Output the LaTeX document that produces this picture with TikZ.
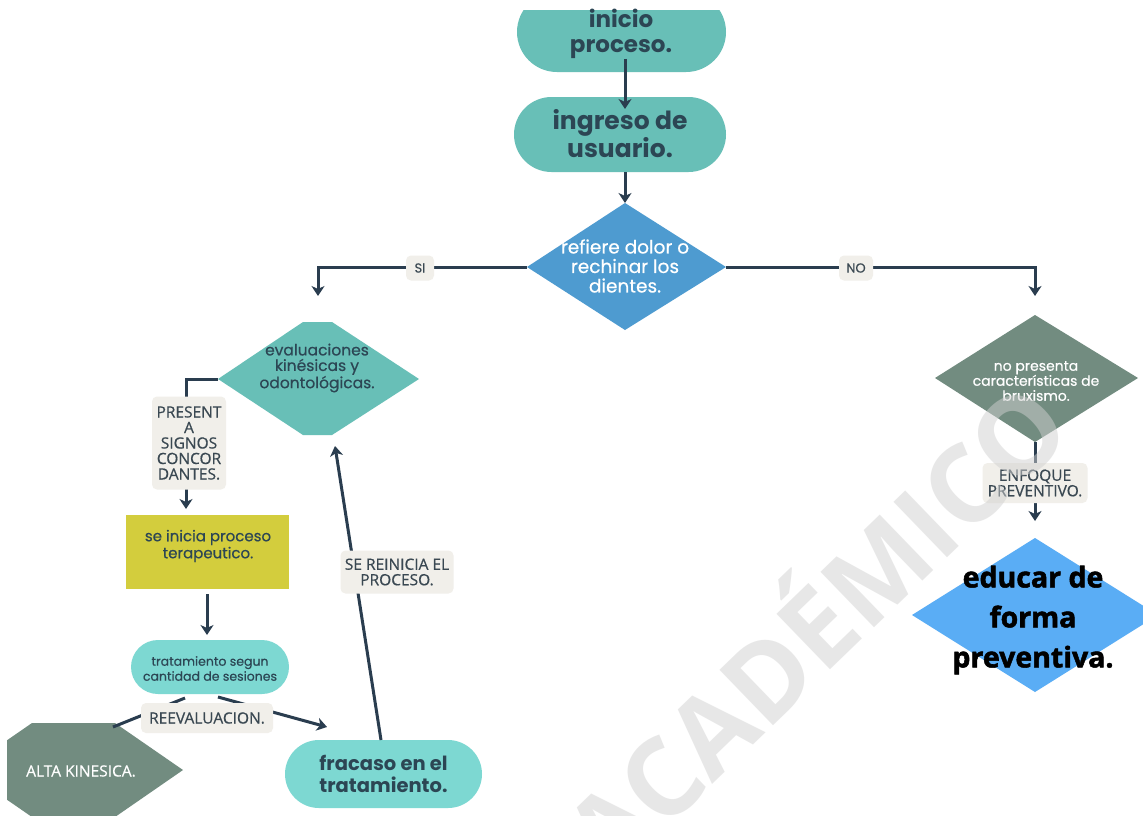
\documentclass[tikz,border=0pt]{standalone}
\usepackage{fontspec}
\setmainfont{Poppins}
\newfontfamily\popm{Poppins}[FakeBold=0.5]
\newfontfamily\osans{Open Sans}[FakeBold=0.6]
\newfontfamily\heavy{Open Sans}[BoldFeatures={FakeBold=1.8}]
\newfontfamily\wmfont{Open Sans}
\usetikzlibrary{arrows.meta,shapes.misc}
\definecolor{teal1}{HTML}{68BFB7}
\definecolor{teal2}{HTML}{7DD8D2}
\definecolor{blue1}{HTML}{4E9BD0}
\definecolor{blue2}{HTML}{5AADF5}
\definecolor{sage}{HTML}{728C80}
\definecolor{olive}{HTML}{D3CD3D}
\definecolor{ink}{HTML}{2A3D4F}
\definecolor{inktext}{HTML}{2C4654}
\definecolor{tag}{HTML}{F1EFEA}
\definecolor{tagtext}{HTML}{3A4852}
\definecolor{wm}{HTML}{D0D0D0}
\begin{document}
\begin{tikzpicture}[x=1pt,y=-1pt,
  conn/.style={draw=ink,line width=3pt,-{Stealth[length=10pt,width=13pt,inset=3pt]}},
  plain/.style={draw=ink,line width=3pt},
  tagbox/.style={fill=tag,rounded corners=5pt,inner sep=3pt,text=tagtext,align=center,
    font={\osans\fontsize{15.5}{15.5}\selectfont}},
  pill/.style={rounded rectangle,inner sep=0pt},
  txt/.style={align=center,text=inktext,inner sep=0pt}]
\useasboundingbox (0,0) rectangle (1143,815);
\fill[white] (0,0) rectangle (1143,815);

% ---------- shapes ----------
\begin{scope}
  \clip (0,10) rectangle (1143,815);
  \node[pill,fill=teal1,minimum width=209pt,minimum height=80pt] (inicioshape) at (621.5,32) {};
\end{scope}
\node[txt,font={\bfseries\fontsize{23}{25}\selectfont}] (inicio) at (621,34) {inicio\\proceso.};

\node[pill,fill=teal1,minimum width=212pt,minimum height=75pt] (ingreso) at (620,134.5) {};
\node[txt,font={\bfseries\fontsize{25}{25.5}\selectfont}] (ingresotxt) at (620,134) {ingreso de\\usuario.};

\fill[blue1] (625,203) coordinate (dAt) -- (726,267) coordinate (dAr) -- (625,330) coordinate (dAb) -- (527,267) coordinate (dAl) -- cycle;
\node[align=center,text=white,inner sep=0pt,font={\popm\fontsize{18.5}{19.5}\selectfont}] (refiere) at (625,266) {refiere dolor o\\rechinar los\\dientes.};

\fill[teal1] (303,322) -- (332,322) -- (419,379) coordinate (eR) -- (332,435) -- (303,435) -- (218,379) coordinate (eL) -- cycle;
\coordinate (eB) at (335,446);
\node[txt,font={\popm\fontsize{15.5}{15.5}\selectfont}] (evalu) at (317,368) {evaluaciones\\kinésicas y\\odontológicas.};

\node[fill=olive,minimum width=163pt,minimum height=74pt,inner sep=0pt] (terapbox) at (207.5,552) {};
\node[txt,font={\popm\fontsize{15}{17}\selectfont}] (terap) at (208,546) {se inicia proceso\\terapeutico.};

\node[pill,fill=teal2,minimum width=158pt,minimum height=54pt] (trat) at (210,667) {};
\node[txt,font={\popm\fontsize{12.5}{15}\selectfont}] (trattxt) at (210,668.5) {tratamiento segun\\cantidad de sesiones};

\begin{scope}
  \clip (7,0) rectangle (1143,815);
  \fill[sage] (32,723) -- (115,723) -- (183,770) -- (115,817) -- (32,817) -- (-36,770) -- cycle;
\end{scope}
\coordinate (altaTop) at (113,727);
\node[align=center,text=white,inner sep=0pt,font={\osans\fontsize{15.5}{15}\selectfont}] (alta) at (81,771) {ALTA KINESICA.};

\node[pill,fill=teal2,minimum width=197pt,minimum height=68pt] (fracaso) at (383.5,774) {};
\node[txt,font={\bfseries\fontsize{19.5}{22}\selectfont}] (fracasotxt) at (383.5,774) {fracaso en el\\tratamiento.};

\fill[sage] (1035,315) -- (1138,378) -- (1035,442) coordinate (dBb) -- (935,378) -- cycle;
\node[align=center,text=white,inner sep=0pt,font={\popm\fontsize{14}{15}\selectfont}] (nopres) at (1036,381) {no presenta\\características de\\bruxismo.};

\fill[blue2] (1035,538) -- (1158,615) -- (1035,692) -- (912,615) -- cycle;
\node[align=center,text=black,inner sep=0pt,font={\heavy\bfseries\fontsize{28.5}{40}\selectfont}] (educar) at (1033,620) {educar de\\forma\\preventiva.};

% ---------- connectors ----------
\coordinate (a1e) at (625,109);
\draw[conn] (inicio.south -| a1e) -- (a1e);
\draw[conn] (ingreso.south -| dAt) -- (dAt);

\coordinate (siend) at (318,296);
\draw[conn] (dAl) -| (siend);
\coordinate (noend) at (1035,296);
\draw[conn] (dAr) -| (noend);

\coordinate (pend) at (186,509);
\draw[conn] (eL) -| (pend);

\coordinate (t1s) at (207,594);
\coordinate (t1e) at (207,635);
\draw[conn] (t1s) -- (t1e);

\coordinate (r1s) at (185,698);
\draw[plain] (r1s) -- (altaTop);
\coordinate (r2s) at (218,697);
\coordinate (r2e) at (327,727);
\draw[conn] (r2s) -- (r2e);

\coordinate (fs) at (381,740);
\draw[conn] (fs) -- (eB);

\coordinate (enfend) at (1035,521);
\draw[conn] (dBb) -- (enfend);

% ---------- labels ----------
\node[tagbox,font={\popm\fontsize{13}{15}\selectfont},minimum width=28pt,minimum height=25pt] (si) at (420,268) {SI};
\node[tagbox,font={\popm\fontsize{13}{15}\selectfont},minimum width=34pt,minimum height=25pt] (no) at (856,268) {NO};
\node[tagbox,minimum width=74pt,minimum height=93pt,inner sep=2pt] (present) at (189,443) {PRESENT\\A\\SIGNOS\\CONCOR\\DANTES.};
\node[tagbox,minimum width=132pt,minimum height=30pt] (reeval) at (207,718) {REEVALUACION.};
\node[tagbox,minimum width=113pt,minimum height=43pt] (reinicia) at (397,572) {SE REINICIA EL\\PROCESO.};
\node[tagbox,minimum width=105pt,minimum height=40pt] (enfoque) at (1035,483) {ENFOQUE\\PREVENTIVO.};

% ---------- watermark ----------
\node[rotate=44,text=wm,opacity=0.5,inner sep=0pt,font={\wmfont\bfseries\fontsize{108}{108}\selectfont}] (wmark) at (809,622) {ACADÉMICO};
\end{tikzpicture}
\end{document}
